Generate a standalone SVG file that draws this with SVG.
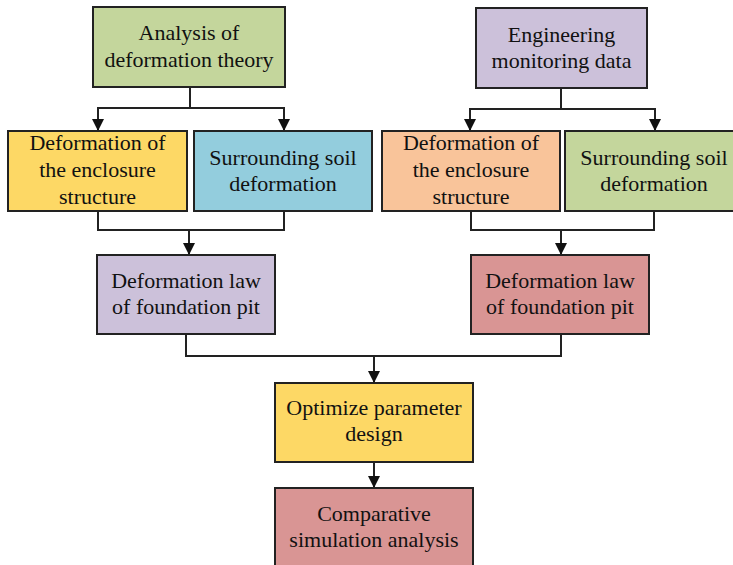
<svg xmlns="http://www.w3.org/2000/svg" width="733" height="565" viewBox="0 0 733 565">
<defs>
<marker id="ah" viewBox="0 0 12 12" refX="12" refY="6" markerWidth="12" markerHeight="12" markerUnits="userSpaceOnUse" orient="auto">
<path d="M0,0 L12,6 L0,12 Z" fill="#111"/>
</marker>
<style>
.b{stroke:#222;stroke-width:2}
.c{fill:none;stroke:#222;stroke-width:2}
.a{marker-end:url(#ah)}
</style>
</defs>
<rect width="733" height="565" fill="#fff"/>
<g id="connectors">
<path class="c" d="M190,87 V108 M98,108 H284"/>
<path class="c a" d="M98,107 V131"/>
<path class="c a" d="M284,107 V131"/>
<path class="c" d="M561,88 V109 M470,109 H655"/>
<path class="c a" d="M470,108 V131"/>
<path class="c a" d="M655,108 V131"/>
<path class="c" d="M98,211 V230 H284 V211"/>
<path class="c a" d="M189,229 V255"/>
<path class="c" d="M471,211 V230 H654 V211"/>
<path class="c a" d="M561,229 V255"/>
<path class="c" d="M186,334 V356 H561 V334"/>
<path class="c a" d="M374,355 V383"/>
<path class="c a" d="M374,462 V488"/>
</g>
<g font-family="Liberation Serif, Tinos, Times New Roman, serif" font-size="22" fill="#111" text-anchor="middle">
<g id="analysis">
<rect class="b" x="93" y="7" width="192" height="80" fill="#c4d69c"/>
<text x="189" y="40">Analysis of</text>
<text x="189" y="67">deformation theory</text>
</g>
<g id="engineering">
<rect class="b" x="476" y="8" width="171" height="80" fill="#ccc1da"/>
<text x="561.5" y="42">Engineering</text>
<text x="561.5" y="68">monitoring data</text>
</g>
<g id="enclosure-left">
<rect class="b" x="8" y="131" width="179" height="80" fill="#fdd865"/>
<text x="97.5" y="150">Deformation of</text>
<text x="97.5" y="177">the enclosure</text>
<text x="97.5" y="204">structure</text>
</g>
<g id="soil-left">
<rect class="b" x="194" y="131" width="178" height="80" fill="#93cddd"/>
<text x="283" y="165">Surrounding soil</text>
<text x="283" y="191">deformation</text>
</g>
<g id="enclosure-right">
<rect class="b" x="382" y="131" width="178" height="80" fill="#f9c49a"/>
<text x="471" y="150">Deformation of</text>
<text x="471" y="177">the enclosure</text>
<text x="471" y="204">structure</text>
</g>
<g id="soil-right">
<rect class="b" x="565" y="131" width="178" height="80" fill="#c4d69c"/>
<text x="654" y="165">Surrounding soil</text>
<text x="654" y="191">deformation</text>
</g>
<g id="law-left">
<rect class="b" x="97" y="255" width="178" height="79" fill="#ccc1da"/>
<text x="186" y="288">Deformation law</text>
<text x="186" y="314">of foundation pit</text>
</g>
<g id="law-right">
<rect class="b" x="471" y="255" width="178" height="79" fill="#d99594"/>
<text x="560" y="288">Deformation law</text>
<text x="560" y="314">of foundation pit</text>
</g>
<g id="optimize">
<rect class="b" x="275" y="383" width="198" height="79" fill="#fdd865"/>
<text x="374" y="415">Optimize parameter</text>
<text x="374" y="441">design</text>
</g>
<g id="comparative">
<rect class="b" x="275" y="488" width="198" height="90" fill="#d99594"/>
<text x="374" y="521">Comparative</text>
<text x="374" y="547">simulation analysis</text>
</g>
</g>
</svg>
